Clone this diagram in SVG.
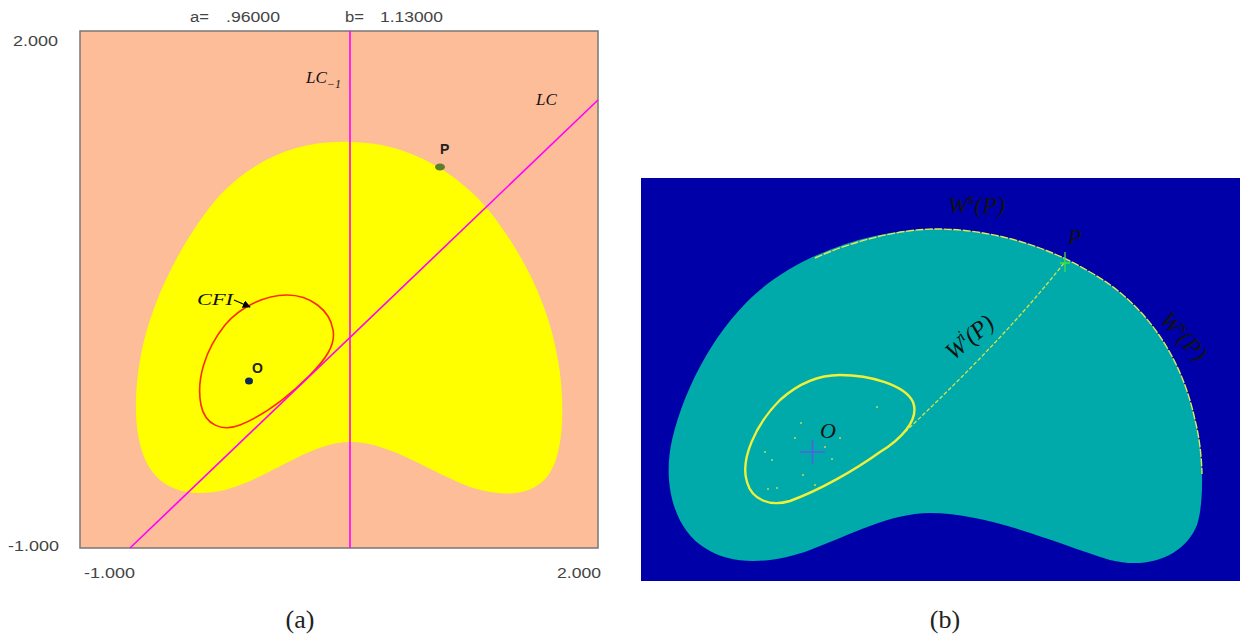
<svg xmlns="http://www.w3.org/2000/svg" width="1244" height="639" viewBox="0 0 1244 639">
<style>
.ax{font-family:"Liberation Sans",Arial,sans-serif;font-size:14px;fill:#444}
.mi{font-family:"Liberation Serif","DejaVu Serif",serif;font-style:italic;fill:#111}
.lb{font-family:"Liberation Sans",Arial,sans-serif;font-weight:bold;font-size:14px;fill:#222}
.cap{font-family:"Liberation Serif","DejaVu Serif",serif;font-size:26px;fill:#222}
.mag{stroke:#ff00ff;stroke-width:1.6;fill:none}
</style>
<defs>
<marker id="ah" viewBox="0 0 10 10" refX="9" refY="5" markerWidth="8" markerHeight="8" markerUnits="userSpaceOnUse" orient="auto">
<path d="M0,0 L10,5 L0,10 Z" fill="#000"/>
</marker>
</defs>
<rect width="1244" height="639" fill="#fff"/>

<g id="panel-a">
  <rect x="80" y="31" width="518" height="517" fill="#fdbd99" stroke="#777" stroke-width="1.5"/>
  <path id="basin-a" d="M350,142 C300,140 255,158 220,195 C185,235 150,300 140,360 C133,400 133,450 155,475 C170,492 195,497 225,490 C270,478 310,442 350,442 C390,442 430,472 470,487 C500,497 530,497 547,477 C565,455 565,400 558,360 C548,300 520,250 490,212 C460,175 410,142 350,142 Z" fill="#ffff00"/>
  <path id="cfi" d="M287,295 C310,295 330,310 333,330 C336,345 325,360 310,375 C290,395 265,415 240,425 C222,432 205,425 201,405 C196,380 205,350 225,325 C240,307 265,295 287,295 Z" fill="none" stroke="#ff2a00" stroke-width="1.6"/>
</g>

<g id="connectors">
  <line x1="350" y1="31" x2="350" y2="548" class="mag"/>
  <line x1="130" y1="548" x2="598" y2="100" class="mag"/>
  <line x1="234" y1="300" x2="250" y2="307" stroke="#000" stroke-width="1.2" marker-end="url(#ah)"/>
</g>

<g id="axes-a">
  <text class="ax" y="22"><tspan x="190" textLength="19" lengthAdjust="spacingAndGlyphs">a=</tspan><tspan x="226" textLength="54" lengthAdjust="spacingAndGlyphs">.96000</tspan></text>
  <text class="ax" y="22"><tspan x="345" textLength="19" lengthAdjust="spacingAndGlyphs">b=</tspan><tspan x="380" textLength="63" lengthAdjust="spacingAndGlyphs">1.13000</tspan></text>
  <text class="ax" x="13" y="46" textLength="45" lengthAdjust="spacingAndGlyphs">2.000</text>
  <text class="ax" x="8" y="551" textLength="51" lengthAdjust="spacingAndGlyphs">-1.000</text>
  <text class="ax" x="84" y="578" textLength="51" lengthAdjust="spacingAndGlyphs">-1.000</text>
  <text class="ax" x="557" y="578" textLength="44" lengthAdjust="spacingAndGlyphs">2.000</text>
</g>

<g id="labels-a">
  <text class="mi" x="306" y="83" font-size="17">LC<tspan font-size="12" dy="5">−1</tspan></text>
  <text class="mi" x="536" y="105" font-size="17">LC</text>
  <text class="mi" x="197" y="305" font-size="17" textLength="36" lengthAdjust="spacingAndGlyphs">CFI</text>
</g>

<g id="node-O-a">
  <ellipse cx="249" cy="381" rx="4" ry="3.5" fill="#0a2a5a"/>
  <text class="lb" x="252" y="373">O</text>
</g>
<g id="node-P-a">
  <ellipse cx="440" cy="167" rx="5" ry="3.5" fill="#5a7d2e"/>
  <text class="lb" x="440" y="154">P</text>
</g>

<g id="panel-b">
  <rect x="641" y="178" width="599" height="403" fill="#0000a8"/>
  <path id="basin-b" d="M936,229 C875,229 805,252 760,290 C718,325 685,385 672,440 C662,485 675,530 705,548 C730,565 770,565 810,550 C850,535 890,513 930,513 C990,513 1060,545 1110,560 C1150,570 1185,555 1197,525 C1205,500 1203,450 1195,420 C1180,350 1140,300 1090,272 C1045,245 990,229 936,229 Z" fill="#00aaaa"/>
  <path id="ws" d="M815,258 C855,240 902,229 936,229 C990,229 1045,245 1090,272 C1140,300 1180,350 1195,420 C1199,435 1201.5,455 1202,474" fill="none" stroke="#e6e655" stroke-width="1.4" stroke-dasharray="8 1.5"/>
  <path id="wi" d="M905,432 C960,380 1015,325 1064,263" fill="none" stroke="#d6e24a" stroke-width="1.3" stroke-dasharray="4 2"/>
  <path id="cfi-b" d="M840,375 C870,375 905,385 913,402 C920,420 900,440 880,452 C855,470 820,490 790,501 C770,507 752,500 747,482 C740,460 755,425 780,400 C800,382 820,375 840,375 Z" fill="none" stroke="#f0f03a" stroke-width="2.4"/>
  <g fill="#c8d84a">
    <circle cx="801" cy="423" r="1"/><circle cx="795" cy="438" r="1"/><circle cx="840" cy="438" r="1"/>
    <circle cx="832" cy="459" r="1"/><circle cx="765" cy="452" r="1"/><circle cx="772" cy="460" r="1"/>
    <circle cx="803" cy="475" r="1"/><circle cx="815" cy="485" r="1"/><circle cx="877" cy="407" r="1"/>
    <circle cx="768" cy="489" r="1"/><circle cx="777" cy="488" r="1"/><circle cx="825" cy="447" r="1"/>
  </g>
</g>

<g id="node-O-b">
  <path d="M800,452 H825 M812.5,440 V464" stroke="#5a5ae6" stroke-width="1.5"/>
  <text class="mi" x="820" y="438" font-size="22">O</text>
</g>
<g id="node-P-b">
  <path d="M1065,252 V272 M1060,263 H1070" stroke="#40e040" stroke-width="1.3"/>
  <text class="mi" x="1068" y="244" font-size="22">P</text>
</g>

<g id="labels-b">
  <text class="mi" x="948" y="213" font-size="24"><tspan>W</tspan><tspan font-size="16" dy="-9">s</tspan><tspan dy="9">(P)</tspan></text>
  <text class="mi" transform="translate(1183,337) rotate(48)" text-anchor="middle" font-size="24" y="7">W<tspan font-size="16" dy="-9">s</tspan><tspan dy="9">(P)</tspan></text>
  <text class="mi" transform="translate(970,338) rotate(-40)" text-anchor="middle" font-size="24" y="7">W<tspan font-size="16" dy="-9">i</tspan><tspan dy="9">(P)</tspan></text>
</g>

<g id="captions">
  <text class="cap" x="300" y="628" text-anchor="middle">(a)</text>
  <text class="cap" x="945" y="628" text-anchor="middle">(b)</text>
</g>
</svg>
